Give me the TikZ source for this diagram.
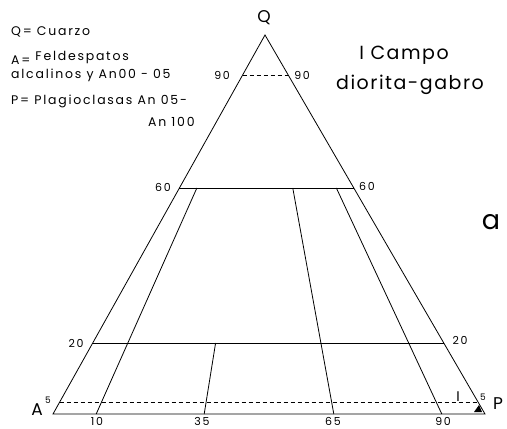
\documentclass[tikz,border=0pt]{standalone}
\usepackage{fontspec}
\setmainfont{Poppins}
\usetikzlibrary{calc}
\tikzset{
  edge/.style={line width=0.8pt},
  dashln/.style={line width=0.8pt,dash pattern=on 4pt off 3pt},
  leg/.style={anchor=west,inner sep=0pt,font=\fontsize{12.5}{14}\selectfont\addfontfeatures{LetterSpace=14}},
  num/.style={inner sep=0pt,font=\fontsize{11}{13}\selectfont\addfontfeatures{LetterSpace=15}},
  vert/.style={inner sep=0pt,font=\fontsize{17}{20}\selectfont},
  sml/.style={inner sep=0pt,font=\fontsize{9}{10}\selectfont},
  ttl/.style={inner sep=0pt,font=\fontsize{19}{22}\selectfont\addfontfeatures{LetterSpace=8}},
}
\begin{document}
\begin{tikzpicture}[x=1pt,y=-1pt]
\useasboundingbox (0,0) rectangle (507,429);
% vertices
\coordinate (A) at (53,414);
\coordinate (P) at (485,414);
\coordinate (Q) at (265,35);
% triangle
\draw[edge] (A) -- (P) -- (Q) -- cycle;
% level lines
\coordinate (l90) at ($(A)!0.8945!(Q)$);
\coordinate (r90) at ($(P)!0.8945!(Q)$);
\coordinate (l60) at ($(A)!0.5963!(Q)$);
\coordinate (r60) at ($(P)!0.5963!(Q)$);
\coordinate (l20) at ($(A)!0.1873!(Q)$);
\coordinate (r20) at ($(P)!0.1873!(Q)$);
\coordinate (l5) at ($(A)!0.0317!(Q)$);
\coordinate (r5) at ($(P)!0.0317!(Q)$);
\draw[dashln] (l90) -- (r90);
\draw[edge] (l60) -- (r60);
\draw[edge] (l20) -- (r20);
\draw[dashln] (l5) -- (r5);
% base points and radial lines
\coordinate (b10) at ($(A)!0.10!(P)$);
\coordinate (b35) at ($(A)!0.35!(P)$);
\coordinate (b65) at ($(A)!0.65!(P)$);
\coordinate (b90) at ($(A)!0.90!(P)$);
\coordinate (t10) at ($(b10)!0.5963!(Q)$);
\coordinate (t35) at ($(b35)!0.1873!(Q)$);
\coordinate (t65) at ($(b65)!0.5963!(Q)$);
\coordinate (t90) at ($(b90)!0.5963!(Q)$);
\draw[edge] (b10) -- (t10);
\draw[edge] (b35) -- (t35);
\draw[edge] (b65) -- (t65);
\draw[edge] (b90) -- (t90);
% vertex labels
\node[vert] (nq) at (264,18) {Q};
\node[vert] (na) at (37,410) {A};
\node[sml] (na5) at (48,400) {5};
\node[vert] (np) at (498,404) {P};
\node[sml] (np5) at (483,397) {5};
% level labels
\node[num] (n90l) at (222,75) {90};
\node[num] (n90r) at (302,75) {90};
\node[num] (n60l) at (163,187) {60};
\node[num] (n60r) at (367,186) {60};
\node[num] (n20l) at (76,343) {20};
\node[num] (n20r) at (460,340) {20};
\node[num,anchor=north] (n10) at (97,417) {10};
\node[num,anchor=north] (n35) at (202,417) {35};
\node[num,anchor=north] (n65) at (333,417) {65};
\node[num,anchor=north] (n90) at (443,417) {90};
% field marker
\node[inner sep=0pt,font=\fontsize{14}{16}\selectfont\rmfamily] (fi) at (458,397) {I};
\fill (474,412) -- (482,412) -- (479,405) -- cycle;
% legend
\node[leg] (lq) at (11,32) {Q= Cuarzo};
\node[leg] (la) at (11,58) {A= \raisebox{3.5pt}{Feldespatos}};
\node[leg] (la2) at (11,75) {alcalinos y An00 - 05};
\node[leg] (lp) at (11,101) {P= Plagioclasas An 05-};
\node[leg] (lp2) at (148,122) {An 100};
% title
\node[ttl] (t1) at (404,55) {I Campo};
\node[ttl] (t2) at (410,85) {diorita-gabro};
\node[inner sep=0pt,font=\fontsize{27}{29}\selectfont] (fa) at (491,222) {a};
\end{tikzpicture}
\end{document}
